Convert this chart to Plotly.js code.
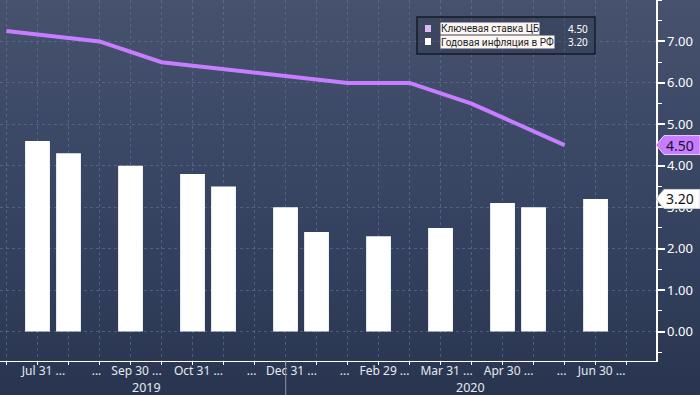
<!DOCTYPE html>
<html>
<head>
<meta charset="utf-8">
<script src="https://cdn.plot.ly/plotly-3.0.1.min.js"></script>
<style>
  html, body { margin: 0; padding: 0; }
  #chart {
    width: 700px; height: 395px;
    background: linear-gradient(to bottom, #47526d 0%, #3b4866 35%, #323f5c 70%, #29354f 100%);
  }
</style>
</head>
<body>
<div id="chart"></div>
<script>
// ---- data ----
const dates = ["2019-07-26","2019-07-31","2019-08-31","2019-09-06","2019-09-30","2019-10-25","2019-10-31",
  "2019-11-30","2019-12-13","2019-12-31","2020-01-31","2020-02-07","2020-02-29","2020-03-20","2020-03-31",
  "2020-04-24","2020-04-30","2020-05-31","2020-06-19","2020-06-30","2020-07-24"];
const keyRate = [7.25,null,null,7.00,null,6.50,null,null,6.25,null,null,6.00,null,6.00,null,5.50,null,null,4.50,null,null];
const inflation = [null,4.6,4.3,null,4.0,null,3.8,3.5,null,3.0,2.4,null,2.3,null,2.5,null,3.1,3.0,null,3.2,null];
const tickLabels = ["","Jul 31 ...","","...","Sep 30 ...","","Oct 31 ...","","...","Dec 31 ...","","...",
  "Feb 29 ...","","Mar 31 ...","","Apr 30 ...","","...","Jun 30 ...",""];
const yearLabels = ["2019","2020"];
const seriesNames = ["Ключевая ставка ЦБ","Годовая инфляция в РФ"];
const lastRate = "4.50";
const lastInfl = "3.20";
const yTickVals = [0,1,2,3,4,5,6,7];
const yTickText = ["0.00","1.00","2.00","3.00","4.00","5.00","6.00","7.00"];

// ---- layout helpers ----
const W = 700, H = 395;
const M = {l: 0, r: 44, t: 0, b: 34};
const PW = W - M.l - M.r, PH = H - M.t - M.b;
const px = x => (x - M.l) / PW;           // pixel -> paper x
const py = y => 1 - (y - M.t) / PH;       // pixel -> paper y
const yRange = [-0.71, 8.0];
const xRange = [-0.21, 20.95];
const unitPx = PH / (yRange[1] - yRange[0]);

const FONT = "Noto Sans, DejaVu Sans, sans-serif";
const LFONT = "Roboto, Noto Sans, sans-serif";
const rateColor = "#c77dff";
const gridColor = "rgba(105,130,165,0.5)";

// short ("...") labels on the main axis, long date labels on an overlaid axis
const shortText = tickLabels.map(t => t === "..." ? t : "");
const longIdx = [], longText = [];
tickLabels.forEach((t, i) => { if (t && t !== "...") { longIdx.push(i); longText.push(t); } });

const traces = [
  {
    type: "bar", x: dates, y: inflation, name: seriesNames[1],
    marker: {color: "#ffffff", line: {width: 0}},
    hoverinfo: "x+y"
  },
  {
    type: "scatter", mode: "lines", x: dates, y: keyRate, name: seriesNames[0],
    connectgaps: true,
    line: {color: rateColor, width: 4}
  },
  // carrier for the overlaid label axis (draws nothing)
  {
    type: "scatter", mode: "none", x: [], y: [], xaxis: "x2", yaxis: "y",
    showlegend: false, hoverinfo: "skip"
  }
];

function callout(val, fill, border) {
  const h = 9.5 / unitPx;
  const x0 = 1.0, x1 = 1 + 8 / PW, x2 = 1 + 44 / PW;
  return [{
    type: "path", xref: "paper", yref: "y", layer: "above",
    path: `M ${x0},${val} L ${x1},${val + h} L ${x2},${val + h} L ${x2},${val - h} L ${x1},${val - h} Z`,
    fillcolor: fill, line: {color: border, width: 1}
  }];
}

const shapes = [
  // legend box
  {type: "rect", xref: "paper", yref: "paper", x0: px(417), x1: px(595), y0: py(54), y1: py(17),
   fillcolor: "rgba(30,38,58,0.25)", line: {color: "#151a26", width: 1.5}, layer: "above"},
  {type: "rect", xref: "paper", yref: "paper", x0: px(425), x1: px(431), y0: py(32), y1: py(25),
   fillcolor: "#dcb8f5", line: {width: 0}, layer: "above"},
  {type: "rect", xref: "paper", yref: "paper", x0: px(425), x1: px(431), y0: py(45), y1: py(38),
   fillcolor: "#ffffff", line: {width: 0}, layer: "above"},
  // year separator
  {type: "line", xref: "paper", yref: "paper", x0: px(285.7), x1: px(285.7), y0: 0, y1: py(395),
   line: {color: "#8a93a6", width: 1}},
  ...callout(keyRate[18], rateColor, "#ecc8ff"),
  ...callout(inflation[19], "#ffffff", "#d0d0d0")
];

const annotations = [
  {text: seriesNames[0], xref: "paper", yref: "paper", x: px(440), y: py(28.5), xanchor: "left", yanchor: "middle",
   showarrow: false, bgcolor: "#fdf6f1", borderpad: 0, font: {family: LFONT, size: 10, color: "#1b1f2c"}},
  {text: seriesNames[1], xref: "paper", yref: "paper", x: px(440), y: py(41.5), xanchor: "left", yanchor: "middle",
   showarrow: false, bgcolor: "#fdf6f1", borderpad: 0, font: {family: LFONT, size: 10, color: "#1b1f2c"}},
  {text: lastRate, xref: "paper", yref: "paper", x: px(589), y: py(28.5), xanchor: "right", yanchor: "middle",
   showarrow: false, borderpad: 0, font: {family: FONT, size: 10, color: "#ffffff"}},
  {text: lastInfl, xref: "paper", yref: "paper", x: px(589), y: py(41.5), xanchor: "right", yanchor: "middle",
   showarrow: false, borderpad: 0, font: {family: FONT, size: 10, color: "#ffffff"}},
  // right side value callouts
  {text: lastRate, xref: "paper", yref: "y", x: 1 + 24 / PW, y: keyRate[18], xanchor: "center", yanchor: "middle",
   showarrow: false, font: {family: FONT, size: 14, color: "#1a1030"}},
  {text: lastInfl, xref: "paper", yref: "y", x: 1 + 24 / PW, y: inflation[19], xanchor: "center", yanchor: "middle",
   showarrow: false, font: {family: FONT, size: 14, color: "#111111"}},
  // year labels
  {text: yearLabels[0], xref: "paper", yref: "paper", x: px(146), y: py(387), xanchor: "center", yanchor: "middle",
   showarrow: false, font: {family: FONT, size: 12.5, color: "#e6eaf0"}},
  {text: yearLabels[1], xref: "paper", yref: "paper", x: px(470), y: py(387), xanchor: "center", yanchor: "middle",
   showarrow: false, font: {family: FONT, size: 12.5, color: "#e6eaf0"}}
];

const xTickFont = {family: FONT, size: 12, color: "#e6eaf0"};

const layout = {
  width: W, height: H,
  margin: M,
  paper_bgcolor: "rgba(0,0,0,0)",
  plot_bgcolor: "rgba(0,0,0,0)",
  showlegend: false,
  bargap: 0.2,
  font: {family: FONT, color: "#ffffff"},
  xaxis: {
    type: "category",
    range: xRange,
    tickmode: "array", tickvals: dates, ticktext: shortText,
    tickangle: 0, automargin: false,
    ticks: "outside", ticklen: 3, tickcolor: "#ffffff", tickwidth: 1,
    ticklabelshift: -3, ticklabelstandoff: -4,
    tickfont: xTickFont,
    showgrid: true, gridcolor: gridColor, griddash: "3px,3px", gridwidth: 1,
    showline: true, linecolor: "#ffffff", linewidth: 1,
    zeroline: false, fixedrange: true
  },
  xaxis2: {
    type: "linear", overlaying: "x", anchor: "y", side: "bottom",
    range: xRange, autorange: false,
    tickmode: "array", tickvals: longIdx, ticktext: longText,
    tickangle: 0, automargin: false,
    ticks: "outside", ticklen: 3, tickcolor: "rgba(0,0,0,0)", tickwidth: 1,
    ticklabelshift: 6, ticklabelstandoff: -4,
    tickfont: xTickFont,
    showgrid: false, showline: false, zeroline: false, fixedrange: true
  },
  yaxis: {
    side: "right",
    range: yRange,
    automargin: false,
    tickmode: "array", tickvals: yTickVals, ticktext: yTickText,
    ticks: "outside", ticklen: 7, tickwidth: 2, tickcolor: "#ffffff",
    tickfont: {family: FONT, size: 13, color: "#ffffff"},
    minor: {dtick: 0.5, tick0: 0.5, ticks: "outside", ticklen: 4, tickcolor: "#ffffff", tickwidth: 1, showgrid: false},
    showgrid: true, gridcolor: gridColor, griddash: "3px,3px", gridwidth: 1,
    showline: true, linecolor: "#ffffff", linewidth: 1.5,
    zeroline: false, fixedrange: true
  },
  shapes: shapes,
  annotations: annotations
};

Plotly.newPlot("chart", traces, layout, {displayModeBar: false, staticPlot: true});
</script>
</body>
</html>
